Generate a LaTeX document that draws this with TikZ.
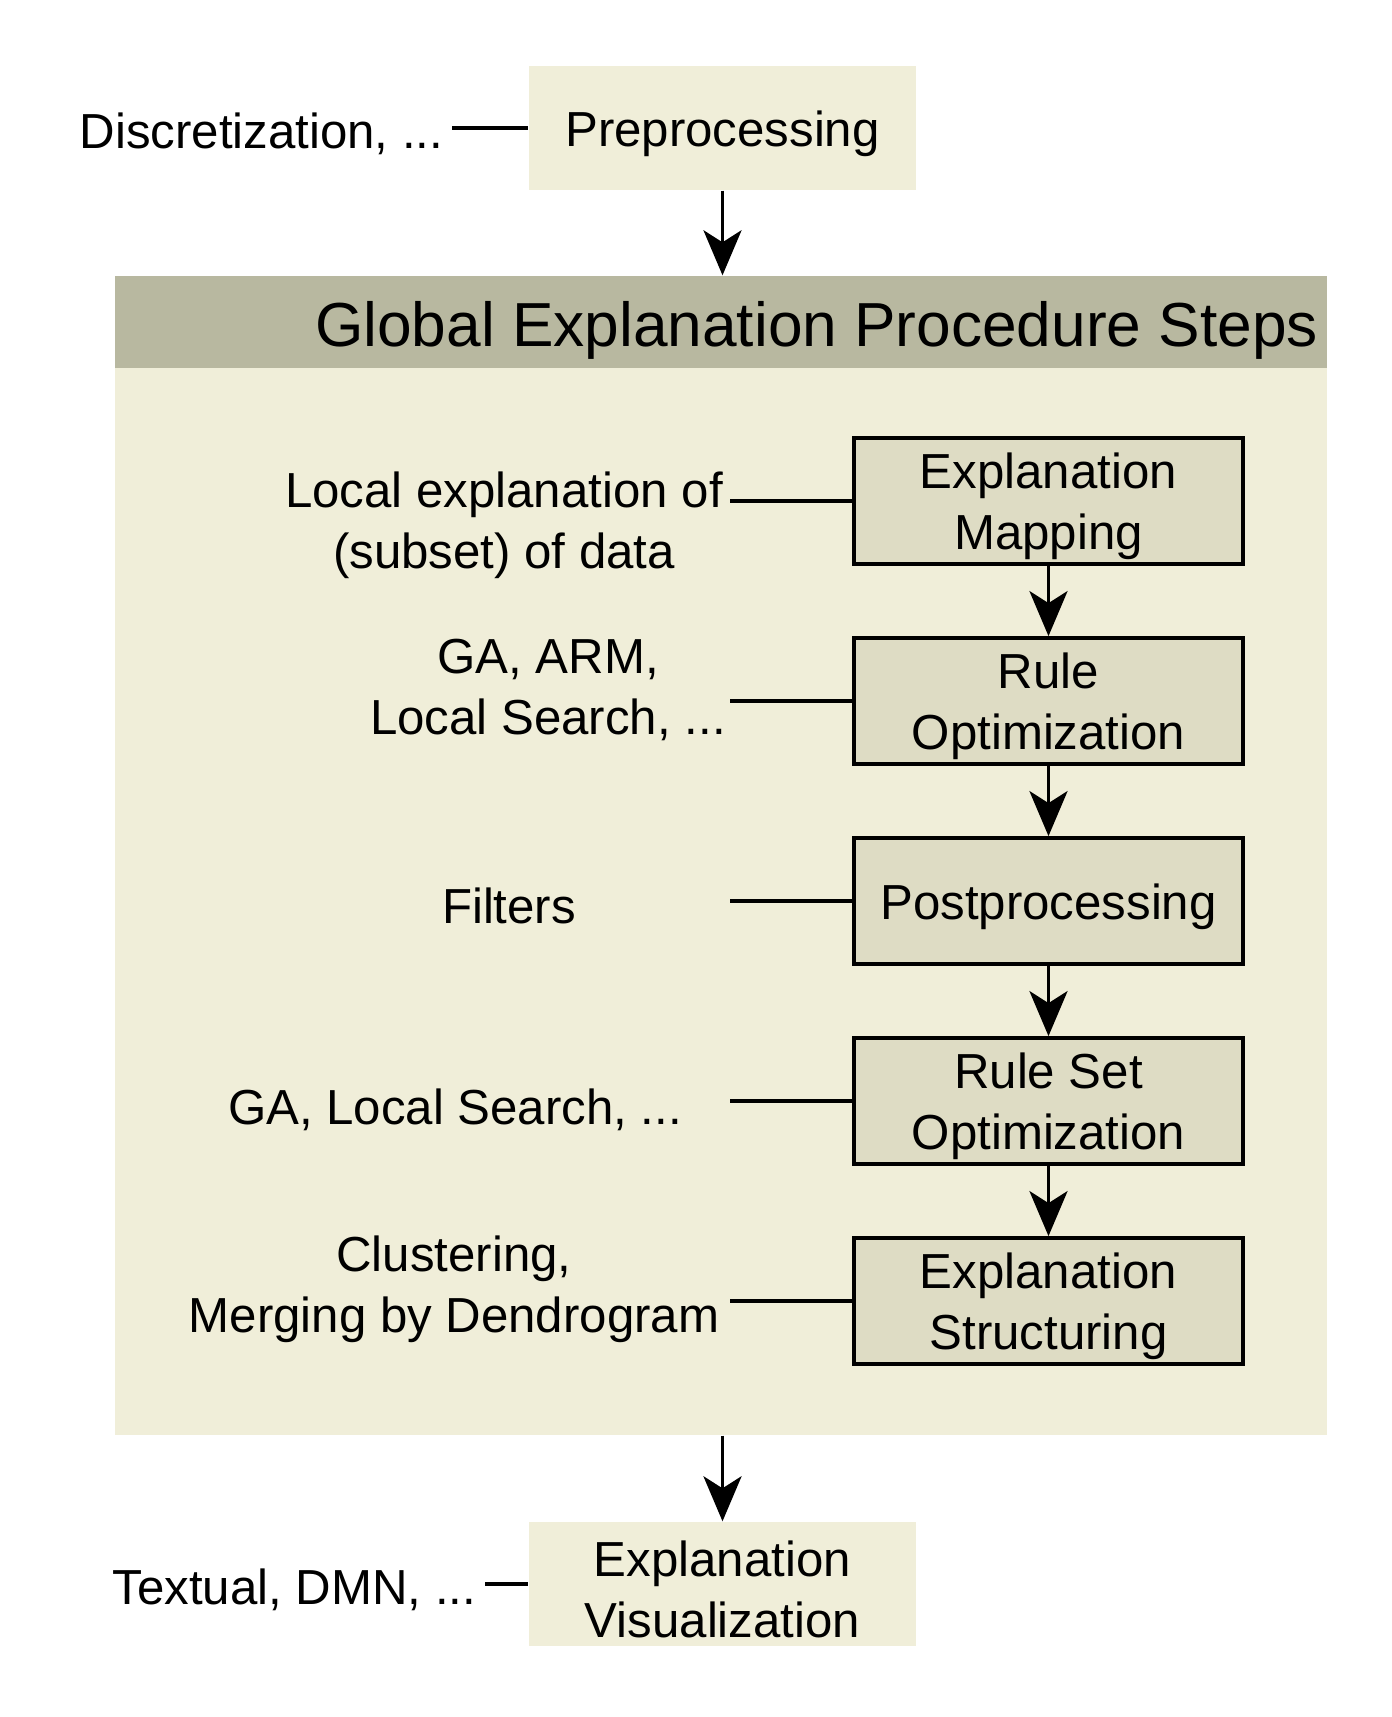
\documentclass[tikz,border=0pt]{standalone}
\usepackage{fontspec}
\setmainfont{Liberation Sans}
\usetikzlibrary{arrows.meta}

\definecolor{panelbg}{RGB}{240,238,217}
\definecolor{headerbg}{RGB}{184,184,160}
\definecolor{stepbg}{RGB}{222,220,196}

\tikzset{
    txt/.style={font=\fontsize{14}{17.4}\selectfont, execute at begin node={\rule{0pt}{13.2pt}}},
    twoline/.style={execute at begin node={\rule{0pt}{30.6pt}}},
    outerbox/.style={txt, fill=panelbg, minimum width=3.87cm, minimum height=1.24cm, align=center, inner sep=0pt},
    stepbox/.style={txt, draw, line width=0.038cm, fill=stepbg, minimum width=3.89cm, minimum height=1.26cm, align=center, inner sep=0pt},
    note/.style={txt, align=center, inner sep=0.08cm},
    link/.style={line width=0.036cm},
    flow/.style={line width=0.036cm, -{Stealth[length=0.45cm, width=0.38cm, inset=0.12cm]}}
}

\begin{document}
\begin{tikzpicture}
    \useasboundingbox (0,0) rectangle (13.92,-17.17);

    % Preprocessing
    \node[outerbox] (pre) at (7.225,-1.28) {Preprocessing};
    \node[note, anchor=east] (disc) at (4.52,-1.28) {Discretization, ...};
    \draw[link] (disc.east) -- (pre.west);

    % Panel with header
    \node[fill=panelbg, minimum width=12.12cm, minimum height=11.59cm, inner sep=0pt] (panel) at (7.21,-8.555) {};
    \node[fill=headerbg, minimum width=12.12cm, minimum height=0.92cm, inner sep=0pt] (head) at (7.21,-3.22) {};
    \node[anchor=east, inner sep=0.09cm, yshift=-0.08cm, font=\fontsize{17.7}{21}\selectfont] (title) at (head.east) {Global Explanation Procedure Steps};
    \draw[flow] (pre.south) -- (pre.south |- head.north);

    % Steps
    \node[stepbox, twoline] (map) at (10.485,-5.01) {Explanation\\Mapping};
    \node[stepbox, twoline] (ruleopt) at (10.485,-7.01) {Rule\\Optimization};
    \node[stepbox] (post) at (10.485,-9.01) {Postprocessing};
    \node[stepbox, twoline] (setopt) at (10.485,-11.01) {Rule Set\\Optimization};
    \node[stepbox, twoline] (struct) at (10.485,-13.01) {Explanation\\Structuring};

    \draw[flow] (map) -- (ruleopt);
    \draw[flow] (ruleopt) -- (post);
    \draw[flow] (post) -- (setopt);
    \draw[flow] (setopt) -- (struct);

    % Methods for each step
    \node[note, twoline] (local) at (5.04,-5.2) {Local explanation of\\(subset) of data};
    \node[note, twoline] (ga) at (5.48,-6.84) {GA, ARM,\\Local Search, ...};
    \node[note] (filt) at (5.09,-9.01) {Filters};
    \node[note] (gals) at (4.55,-11.04) {GA, Local Search, ...};
    \node[note, twoline] (clust) at (4.54,-12.84) {Clustering,\\Merging by Dendrogram};

    \coordinate (m1) at (7.30,-5.01);
    \coordinate (m2) at (7.30,-7.01);
    \coordinate (m3) at (7.30,-9.01);
    \coordinate (m4) at (7.30,-11.01);
    \coordinate (m5) at (7.30,-13.01);
    \draw[link] (m1) -- (map.west);
    \draw[link] (m2) -- (ruleopt.west);
    \draw[link] (m3) -- (post.west);
    \draw[link] (m4) -- (setopt.west);
    \draw[link] (m5) -- (struct.west);

    % Visualization
    \node[outerbox, twoline] (vis) at (7.225,-15.84) {Explanation\\Visualization};
    \node[note, anchor=east] (textual) at (4.85,-15.84) {Textual, DMN, ...};
    \draw[link] (textual.east) -- (vis.west);
    \draw[flow] (vis.north |- panel.south) -- (vis.north);
\end{tikzpicture}
\end{document}
